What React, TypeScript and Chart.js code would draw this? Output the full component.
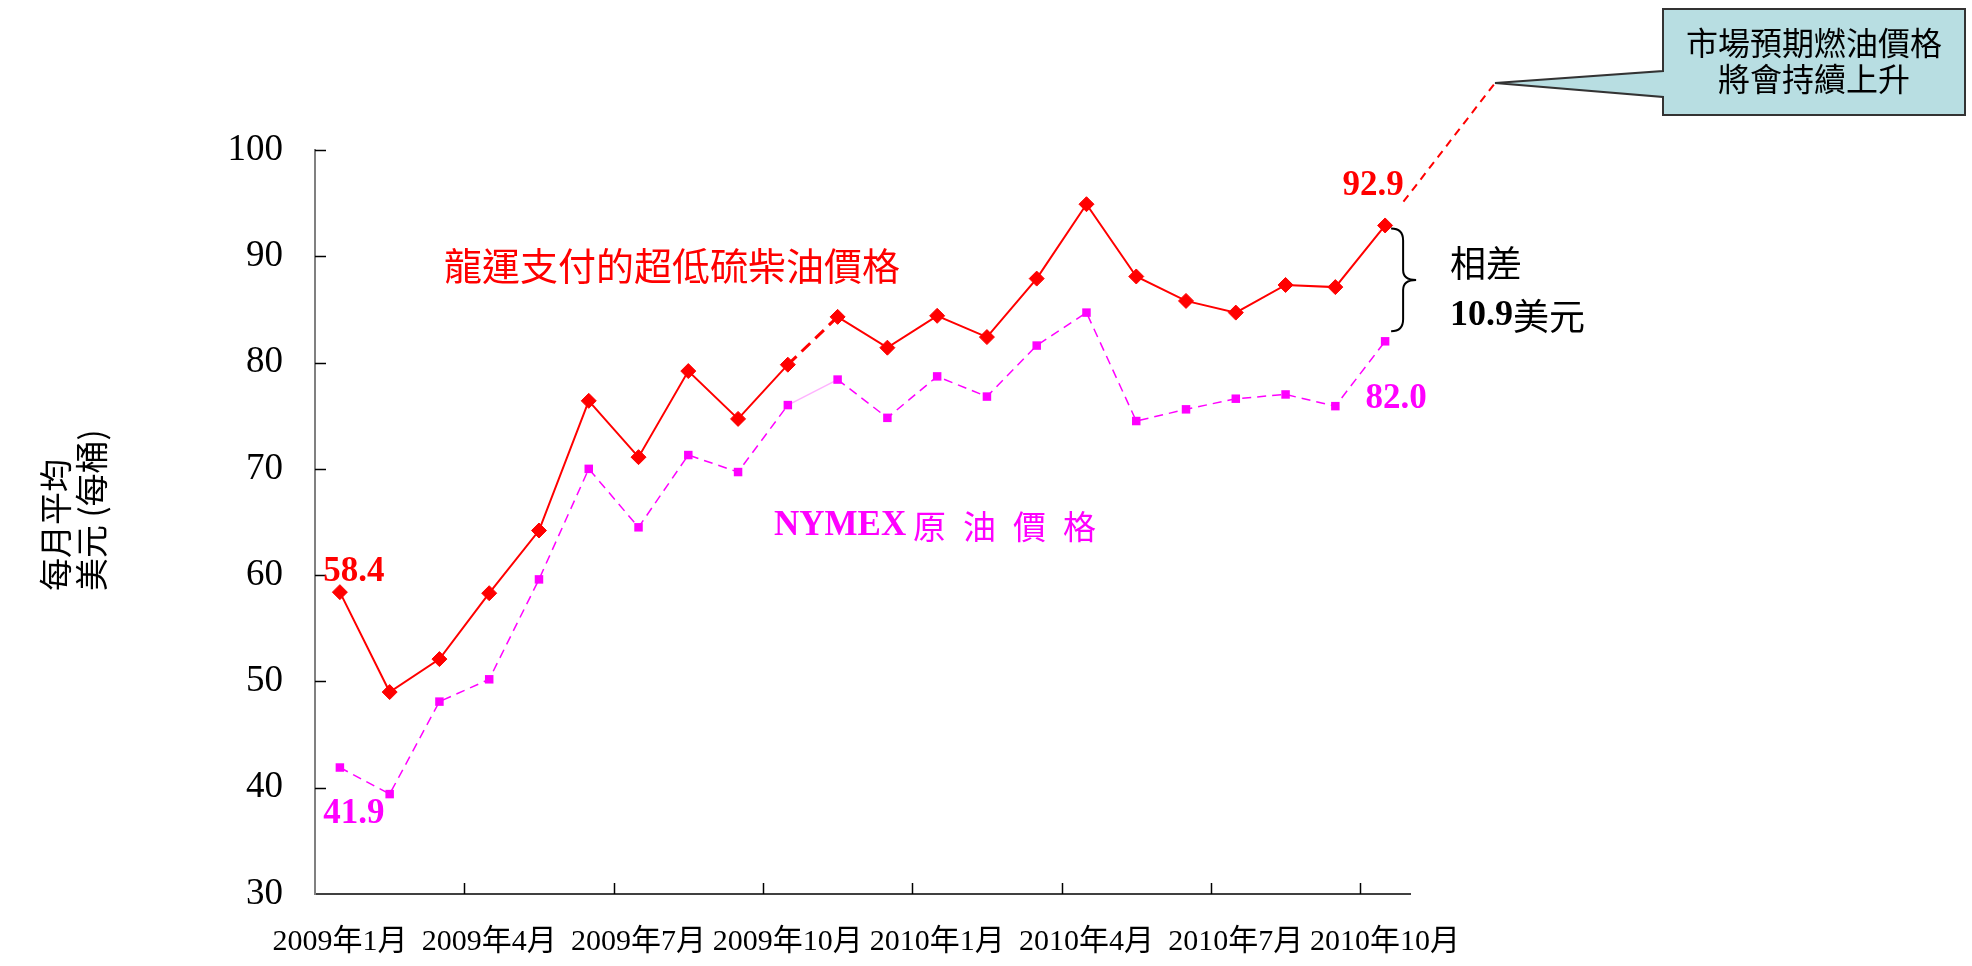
import React, { useEffect, useRef } from 'react';
import { Chart, registerables } from 'chart.js';

Chart.register(...registerables);

const months = [
  '2009年1月', '2009年2月', '2009年3月', '2009年4月', '2009年5月', '2009年6月',
  '2009年7月', '2009年8月', '2009年9月', '2009年10月', '2009年11月', '2009年12月',
  '2010年1月', '2010年2月', '2010年3月', '2010年4月', '2010年5月', '2010年6月',
  '2010年7月', '2010年8月', '2010年9月', '2010年10月',
];
const ulsdPrice = [58.4, 49.0, 52.1, 58.3, 64.2, 76.4, 71.1, 79.2, 74.7, 79.8, 84.3, 81.4, 84.4, 82.4, 87.9, 94.9, 88.1, 85.8, 84.7, 87.3, 87.1, 92.9];
const nymexPrice = [41.9, 39.4, 48.1, 50.2, 59.6, 70.0, 64.5, 71.3, 69.7, 76.0, 78.4, 74.8, 78.7, 76.8, 81.6, 84.7, 74.5, 75.6, 76.6, 77.0, 75.9, 82.0];
const yMin = 30;
const yMax = 100;
const yStep = 10;
const labelEvery = 3;
const dashedSegment = 9;

const ulsdTitle = '龍運支付的超低硫柴油價格';
const nymexTitleLatin = 'NYMEX';
const nymexTitleCjk = ['原', '油', '價', '格'];
const yTitleLines = ['每月平均', '美元 (每桶)'];
const gapTitle = '相差';
const gapUnit = '美元';
const calloutLines = ['市場預期燃油價格', '將會持續上升'];

const SERIF = '"Liberation Serif", "Times New Roman", "Noto Sans CJK TC", serif';
const CJK = '"Noto Sans CJK TC", "Noto Sans CJK SC", sans-serif';
const RED = '#FF0000';
const MAGENTA = '#FF00FF';

const annotationPlugin = {
  id: 'annotations',
  afterDraw(chart: any) {
    const { ctx, chartArea: ca, scales } = chart;
    const x = scales.x;
    const y = scales.y;
    ctx.save();

    // inner tick marks
    ctx.strokeStyle = '#000';
    ctx.lineWidth = 1.5;
    y.ticks.forEach((t: any, i: number) => {
      if (t.value <= y.min) return;
      const py = Math.round(y.getPixelForTick(i)) + 0.5;
      ctx.beginPath();
      ctx.moveTo(ca.left, py);
      ctx.lineTo(ca.left + 11, py);
      ctx.stroke();
    });
    for (let i = labelEvery; i < months.length; i += labelEvery) {
      const px = Math.round((x.getPixelForValue(i - 1) + x.getPixelForValue(i)) / 2) + 0.5;
      ctx.beginPath();
      ctx.moveTo(px, ca.bottom);
      ctx.lineTo(px, ca.bottom - 11);
      ctx.stroke();
    }

    // y axis title (rotated)
    ctx.fillStyle = '#000';
    ctx.font = `33px ${CJK}`;
    ctx.textAlign = 'left';
    ctx.textBaseline = 'middle';
    yTitleLines.forEach((line, i) => {
      ctx.save();
      ctx.translate(55 + i * 36, 591);
      ctx.rotate(-Math.PI / 2);
      ctx.fillText(line, 0, 0);
      ctx.restore();
    });

    const red = chart.getDatasetMeta(0).data;
    const mag = chart.getDatasetMeta(1).data;
    const n = ulsdPrice.length - 1;

    // value labels
    ctx.font = `bold 35px ${SERIF}`;
    ctx.textAlign = 'center';
    ctx.textBaseline = 'middle';
    ctx.fillStyle = RED;
    ctx.fillText(ulsdPrice[0].toFixed(1), red[0].x + 14, red[0].y - 20);
    ctx.fillText(ulsdPrice[n].toFixed(1), red[n].x - 12, red[n].y - 40);
    ctx.fillStyle = MAGENTA;
    ctx.fillText(nymexPrice[0].toFixed(1), mag[0].x + 14, mag[0].y + 46);
    ctx.fillText(nymexPrice[n].toFixed(1), mag[n].x + 11, mag[n].y + 58);

    // series titles
    ctx.fillStyle = RED;
    ctx.font = `38px ${CJK}`;
    ctx.textAlign = 'center';
    ctx.fillText(ulsdTitle, 672, 266);

    ctx.fillStyle = MAGENTA;
    ctx.font = `bold 35px ${SERIF}`;
    ctx.textAlign = 'left';
    ctx.fillText(nymexTitleLatin, 774, 526);
    ctx.font = `33px ${CJK}`;
    nymexTitleCjk.forEach((c, i) => ctx.fillText(c, 913 + i * 50, 526));

    // brace between last points
    const bx = red[n].x + 6;
    const top = red[n].y + 3;
    const bottom = mag[n].y - 10;
    const mid = (top + bottom) / 2;
    ctx.strokeStyle = '#000';
    ctx.lineWidth = 2;
    ctx.beginPath();
    ctx.moveTo(bx, top);
    ctx.quadraticCurveTo(bx + 12, top, bx + 12, top + 12);
    ctx.lineTo(bx + 12, mid - 10);
    ctx.quadraticCurveTo(bx + 12, mid, bx + 25, mid);
    ctx.quadraticCurveTo(bx + 12, mid, bx + 12, mid + 10);
    ctx.lineTo(bx + 12, bottom - 12);
    ctx.quadraticCurveTo(bx + 12, bottom, bx, bottom);
    ctx.stroke();

    ctx.fillStyle = '#000';
    ctx.textAlign = 'left';
    ctx.font = `36px ${CJK}`;
    ctx.fillText(gapTitle, 1450, 263);
    const diff = (ulsdPrice[n] - nymexPrice[n]).toFixed(1);
    ctx.font = `bold 36px ${SERIF}`;
    ctx.fillText(diff, 1450, 316);
    const w = ctx.measureText(diff).width;
    ctx.font = `36px ${CJK}`;
    ctx.fillText(gapUnit, 1450 + w, 316);

    // callout
    const tipX = 1495;
    const tipY = 83;
    const bxL = 1663, bxR = 1965, bxT = 9, bxB = 115;
    ctx.beginPath();
    ctx.moveTo(bxL, bxT);
    ctx.lineTo(bxR, bxT);
    ctx.lineTo(bxR, bxB);
    ctx.lineTo(bxL, bxB);
    ctx.lineTo(bxL, 97);
    ctx.lineTo(tipX, tipY);
    ctx.lineTo(bxL, 71);
    ctx.closePath();
    ctx.fillStyle = '#B8DEE2';
    ctx.fill();
    ctx.strokeStyle = '#333';
    ctx.lineWidth = 2;
    ctx.stroke();
    ctx.fillStyle = '#000';
    ctx.font = `32px ${CJK}`;
    ctx.textAlign = 'center';
    ctx.fillText(calloutLines[0], 1814, 43);
    ctx.fillText(calloutLines[1], 1814, 79);

    // dashed projection line
    const dx = tipX - red[n].x;
    const dy = tipY - red[n].y;
    const len = Math.hypot(dx, dy);
    ctx.strokeStyle = RED;
    ctx.lineWidth = 2;
    ctx.setLineDash([8, 6]);
    ctx.beginPath();
    ctx.moveTo(red[n].x + (dx / len) * 30, red[n].y + (dy / len) * 30);
    ctx.lineTo(tipX, tipY);
    ctx.stroke();
    ctx.setLineDash([]);

    ctx.restore();
  },
};

export default function App() {
  const ref = useRef<HTMLCanvasElement>(null);
  useEffect(() => {
    const chart = new Chart(ref.current as HTMLCanvasElement, {
      type: 'line',
      data: {
        labels: months,
        datasets: [
          {
            label: ulsdTitle,
            data: ulsdPrice,
            borderColor: RED,
            backgroundColor: RED,
            borderWidth: 2,
            pointStyle: 'rectRot',
            pointRadius: 7.5,
            pointBackgroundColor: RED,
            pointBorderColor: RED,
            pointBorderWidth: 1,
            tension: 0,
            segment: {
              borderDash: (c: any) => (c.p0DataIndex === dashedSegment ? [12, 7] : undefined),
              borderWidth: (c: any) => (c.p0DataIndex === dashedSegment ? 3 : undefined),
            },
          } as any,
          {
            label: 'NYMEX 原油價格',
            data: nymexPrice,
            borderColor: MAGENTA,
            backgroundColor: MAGENTA,
            borderWidth: 1.5,
            borderDash: [9, 6],
            pointStyle: 'rect',
            pointRadius: 6,
            pointBackgroundColor: MAGENTA,
            pointBorderColor: MAGENTA,
            pointBorderWidth: 0,
            tension: 0,
            segment: {
              borderDash: (c: any) => (c.p0DataIndex === dashedSegment ? [] : undefined),
              borderColor: (c: any) => (c.p0DataIndex === dashedSegment ? 'rgba(255,0,255,0.3)' : undefined),
            },
          } as any,
        ],
      },
      options: {
        animation: false,
        responsive: false,
        devicePixelRatio: 1,
        layout: { padding: { top: 150, right: 562, bottom: 0, left: 0 } },
        plugins: { legend: { display: false }, tooltip: { enabled: false } },
        scales: {
          x: {
            type: 'category',
            offset: true,
            grid: { display: true, drawOnChartArea: false, drawTicks: false, offset: true },
            border: { display: true, color: '#404040', width: 2 },
            ticks: {
              autoSkip: false,
              maxRotation: 0,
              minRotation: 0,
              padding: 30,
              color: '#000',
              font: { family: SERIF, size: 30 },
              callback: (_v: any, i: number) => (i % labelEvery === 0 ? months[i] : ''),
            },
            afterFit: (s: any) => {
              s.height = 72;
            },
          },
          y: {
            min: yMin,
            max: yMax,
            ticks: { stepSize: yStep, padding: 32, color: '#000', font: { family: SERIF, size: 37 } },
            grid: { drawOnChartArea: false, drawTicks: false },
            border: { display: true, color: '#808080', width: 2 },
            afterFit: (s: any) => {
              s.width = 315;
            },
          },
        },
      } as any,
      plugins: [annotationPlugin],
    });
    return () => chart.destroy();
  }, []);
  return (
    <div style={{ position: 'fixed', left: 0, top: 0, width: 1972, height: 966, background: '#fff' }}>
      <canvas ref={ref} width={1972} height={966} style={{ display: 'block' }} />
    </div>
  );
}
